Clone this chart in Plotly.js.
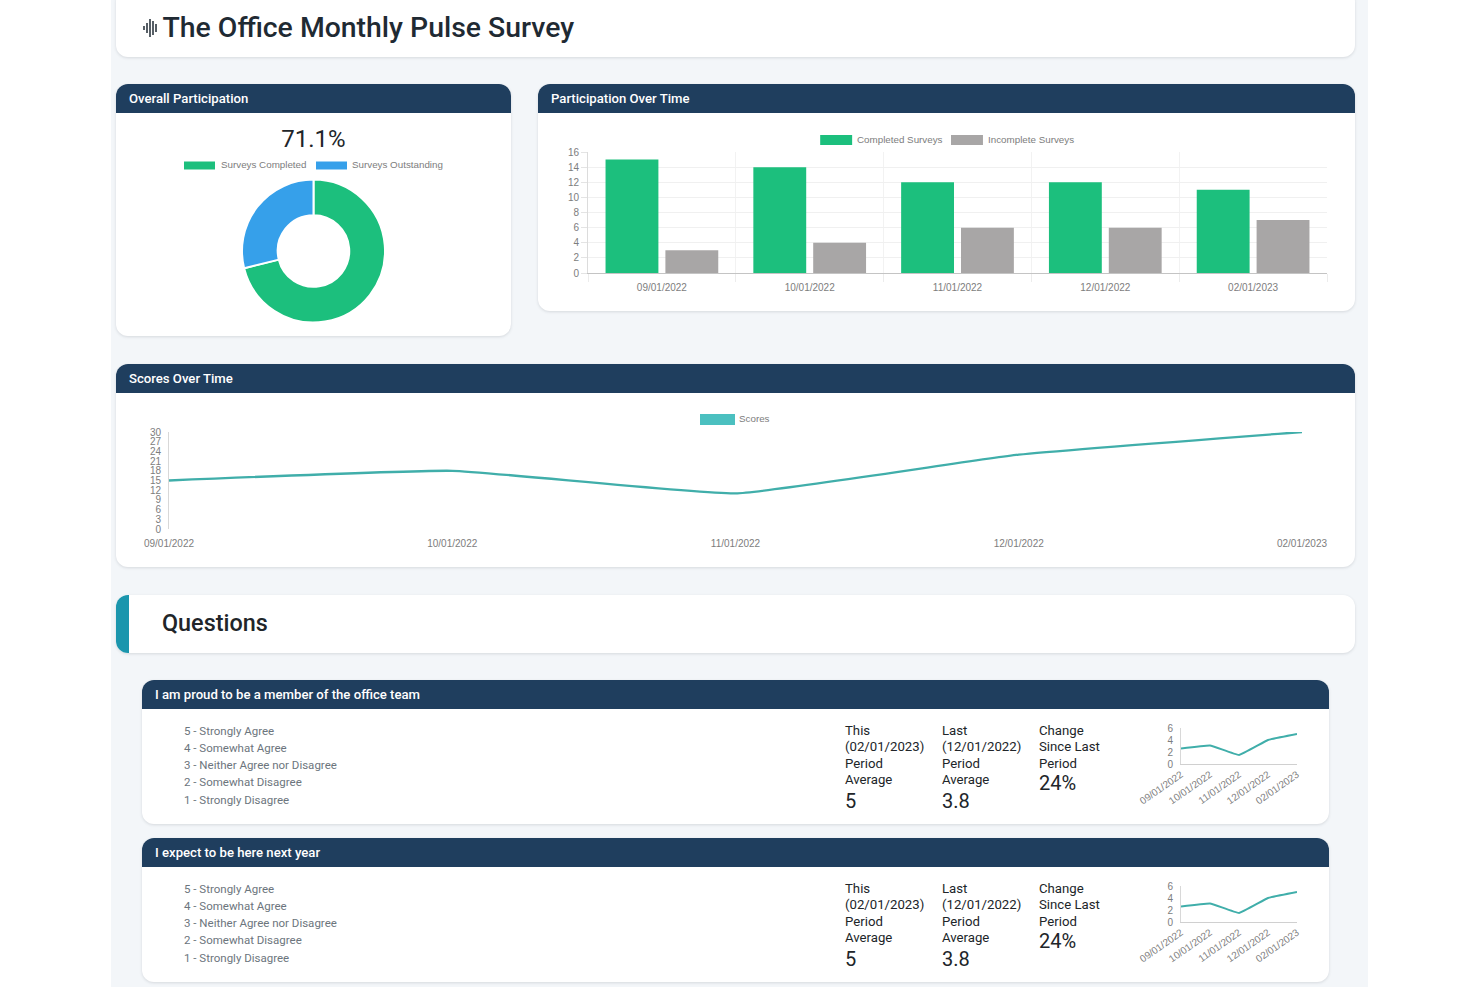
<!DOCTYPE html>
<html><head><meta charset="utf-8">
<script src="https://cdn.plot.ly/plotly-3.0.1.min.js"></script>
<style>
html,body{margin:0;padding:0;width:1480px;height:987px;overflow:hidden;background:#fff;font-family:Roboto,sans-serif;color:#212529}
#bg{position:absolute;left:111px;top:0;width:1257px;height:987px;background:#f3f6f9}
.card{position:absolute;background:#fff;border-radius:12px;box-shadow:0 1px 3px rgba(60,70,80,.16)}
.head{position:absolute;left:0;right:0;top:0;height:29px;background:#1f3e5e;border-radius:12px 12px 0 0;color:#fff;font-weight:500;font-size:13.15px;line-height:29px;padding-left:13px;box-sizing:border-box}
.plot{position:absolute}
.abs{position:absolute;white-space:nowrap}
.scale{font-size:11.5px;color:#6c757d;height:17px;line-height:17px}
.stat{font-size:13.2px;line-height:16.5px;color:#212529;white-space:pre-line}
.big{font-size:20px;line-height:22px;color:#212529}
</style></head><body>
<div id="bg"></div>
<div id="page"></div>
<script>
const dates = ["09/01/2022","10/01/2022","11/01/2022","12/01/2022","02/01/2023"];
const completed = [15,14,12,12,11];
const incomplete = [3,4,6,6,7];
const overallLabels = ["Surveys Completed","Surveys Outstanding"];
const overallValues = [64,26];
const overallText = "71.1%";
const scores = [15,18,11,23,30];
const questionTitles = ["I am proud to be a member of the office team","I expect to be here next year"];
const scaleLabels = ["5 - Strongly Agree","4 - Somewhat Agree","3 - Neither Agree nor Disagree","2 - Somewhat Disagree","1 - Strongly Disagree"];
const questionScores = [2.6,3.1,1.5,4,5];
const thisHead = "This\n(02/01/2023)\nPeriod\nAverage", thisValue = "5";
const lastHead = "Last\n(12/01/2022)\nPeriod\nAverage", lastValue = "3.8";
const changeHead = "Change\nSince Last\nPeriod", changeValue = "24%";

const GREEN="#1cbf7d", BLUE="#36a0ea", GREY="#a8a6a6", TEAL="#40aeaa", SWATCH="#4bc0c0";
const TICK="#7d7d7d", FONT="Liberation Sans, Arial, sans-serif";
const page=document.getElementById("page");
function el(cls,x,y,w,h,txt){const d=document.createElement("div");d.className=cls;d.style.left=x+"px";d.style.top=y+"px";
  if(w!=null)d.style.width=w+"px"; if(h!=null)d.style.height=h+"px"; if(txt!=null)d.textContent=txt; page.appendChild(d);return d;}
function card(x0,y0,x1,y1,title){const c=el("card",x0,y0,x1-x0,y1-y0);
  if(title){const h=document.createElement("div");h.className="head";h.textContent=title;c.appendChild(h);}return c;}
function plot(x0,y0,x1,y1){return el("plot",x0,y0,x1-x0,y1-y0);}
// legend swatches and labels as paper-referenced shapes and annotations
function addLegend(layout,x0,y0,x1,y1,items){
  const m=layout.margin, pw=x1-x0-m.l-m.r, ph=y1-y0-m.t-m.b;
  const fx=p=>(p-x0-m.l)/pw, fy=p=>1-(p-y0-m.t)/ph;
  layout.shapes=items.map(i=>({type:"rect",xref:"paper",yref:"paper",line:{width:0},fillcolor:i.c,
    x0:fx(i.sx0),x1:fx(i.sx1),y0:fy(i.sy1),y1:fy(i.sy0)}));
  layout.annotations=items.map(i=>({text:i.t,showarrow:false,xref:"paper",yref:"paper",xanchor:"left",yanchor:"middle",
    x:fx(i.tx),y:fy((i.sy0+i.sy1)/2),xshift:-2,yshift:0.7,font:{family:FONT,size:9.8,color:TICK}}));
  return layout;
}
const cfg={staticPlot:true,displayModeBar:false};

// ---- title card
card(116,-10,1355,57);
el("abs",162.5,7,null,null,"The Office Monthly Pulse Survey").style.cssText+=";font-size:28.4px;font-weight:500;color:#1f2a33;line-height:42px";
const ic=document.createElementNS("http://www.w3.org/2000/svg","svg");
ic.setAttribute("width","18");ic.setAttribute("height","20");ic.style.cssText="position:absolute;left:143px;top:18px";
ic.innerHTML='<g stroke="#1f2a33" stroke-width="1.5">'+[[1,8,12],[4,5,15],[7,1,19],[10,3,17],[13,6,14]].map(a=>`<line x1="${a[0]}" x2="${a[0]}" y1="${a[1]}" y2="${a[2]}"/>`).join("")+'</g>';
page.appendChild(ic);

// ---- overall participation
card(116,84,511,336,"Overall Participation");
el("abs",116,125,395,28,overallText).style.cssText+=";text-align:center;font-size:24px;line-height:28px;color:#212529";
{const x0=117,y0=113,x1=510,y1=335,d=plot(x0,y0,x1,y1);
 const cx=313.5,cy=251,R=71.5;
 const lay={width:x1-x0,height:y1-y0,margin:{l:0,r:0,t:0,b:0},showlegend:false,paper_bgcolor:"rgba(0,0,0,0)"};
 addLegend(lay,x0,y0,x1,y1,[
  {c:GREEN,sx0:184,sx1:215,sy0:161.5,sy1:169.5,t:overallLabels[0],tx:221},
  {c:BLUE,sx0:316,sx1:347,sy0:161.5,sy1:169.5,t:overallLabels[1],tx:352}]);
 Plotly.newPlot(d,[{type:"pie",labels:overallLabels,values:overallValues,hole:.5,sort:false,direction:"clockwise",rotation:0,
   textinfo:"none",marker:{colors:[GREEN,BLUE],line:{color:"#fff",width:2}},
   domain:{x:[(cx-R-x0)/(x1-x0),(cx+R-x0)/(x1-x0)],y:[1-(cy+R-y0)/(y1-y0),1-(cy-R-y0)/(y1-y0)]}}],lay,cfg);}

// ---- participation over time
card(538,84,1355,311,"Participation Over Time");
{const x0=538,y0=113,x1=1355,y1=311,d=plot(x0,y0,x1,y1);
 const lay={width:x1-x0,height:y1-y0,margin:{l:49.5,r:27.5,t:39,b:38},showlegend:false,paper_bgcolor:"rgba(0,0,0,0)",plot_bgcolor:"rgba(0,0,0,0)",
   barmode:"group",bargap:.19,bargroupgap:.117,
   font:{family:FONT,size:10,color:TICK},
   xaxis:{type:"category",tickson:"boundaries",showgrid:true,gridcolor:"#f2f2f2",ticks:"outside",ticklen:8,tickcolor:"#ececec",ticklabelstandoff:5,tickfont:{size:10,color:TICK},zeroline:false,showline:true,linecolor:"#c4c4c4",linewidth:1},
   yaxis:{range:[0,16],dtick:2,showgrid:true,gridcolor:"#f0f0f0",ticks:"outside",ticklen:6,tickcolor:"#e4e4e4",tickfont:{size:10,color:TICK},zeroline:false,showline:true,linecolor:"#dcdcdc"}};
 addLegend(lay,x0,y0,x1,y1,[{c:GREEN,sx0:820,sx1:852,sy0:135,sy1:145,t:"Completed Surveys",tx:857},{c:GREY,sx0:951,sx1:983,sy0:135,sy1:145,t:"Incomplete Surveys",tx:988}]);
 Plotly.newPlot(d,[{type:"bar",name:"Completed Surveys",x:dates,y:completed,marker:{color:GREEN}},
                   {type:"bar",name:"Incomplete Surveys",x:dates,y:incomplete,marker:{color:GREY}}],lay,cfg);}

// ---- scores over time
card(116,364,1355,567,"Scores Over Time");
{const x0=116,y0=393,x1=1355,y1=567,d=plot(x0,y0,x1,y1);
 const lay={width:x1-x0,height:y1-y0,margin:{l:53,r:53,t:39,b:38},showlegend:false,paper_bgcolor:"rgba(0,0,0,0)",plot_bgcolor:"rgba(0,0,0,0)",
   font:{family:FONT,size:10,color:TICK},
   xaxis:{type:"category",range:[0,4],showgrid:false,zeroline:false,ticks:"outside",ticklen:5,tickcolor:"rgba(0,0,0,0)",tickfont:{size:10,color:TICK},tickangle:0,showline:false},
   yaxis:{range:[0,30],dtick:3,showgrid:false,zeroline:false,ticks:"outside",ticklen:5,tickcolor:"rgba(0,0,0,0)",tickfont:{size:10,color:TICK},showline:true,linecolor:"#d8d8d8"}};
 addLegend(lay,x0,y0,x1,y1,[{c:SWATCH,sx0:700,sx1:735,sy0:414,sy1:425,t:"Scores",tx:739}]);
 Plotly.newPlot(d,[{type:"scatter",mode:"lines",name:"Scores",x:dates,y:scores,line:{color:TEAL,width:2.3,shape:"spline",smoothing:.35}}],lay,cfg);}

// ---- questions header
const qc=card(116,595,1355,653);
qc.style.overflow="hidden";
const bar=document.createElement("div");bar.style.cssText="position:absolute;left:0;top:0;bottom:0;width:13px;background:#1b96ad";qc.appendChild(bar);
el("abs",162,608,null,null,"Questions").style.cssText+=";font-size:23.4px;font-weight:500;line-height:30px;color:#212529";

// ---- question cards
questionTitles.forEach((q,i)=>{
 const o=i*158;
 card(142,680+o,1329,824+o,q);
 scaleLabels.forEach((s,k)=>el("abs scale",184,722.5+o+k*17.25,null,null,s));
 [[845,thisHead,thisValue,790],[942,lastHead,lastValue,790],[1039,changeHead,changeValue,772]].forEach(c=>{
   el("abs stat",c[0],722.5+o,null,null,c[1]);
   el("abs big",c[0],c[3]+o,null,null,c[2]);
 });
 const x0=1130,y0=712+o,x1=1329,y1=824+o,d=plot(x0,y0,x1,y1);
 Plotly.newPlot(d,[{type:"scatter",mode:"lines",x:dates,y:questionScores,line:{color:TEAL,width:2,shape:"spline",smoothing:.25}}],
  {width:x1-x0,height:y1-y0,margin:{l:51,r:32,t:16,b:60},showlegend:false,paper_bgcolor:"rgba(0,0,0,0)",plot_bgcolor:"rgba(0,0,0,0)",
   font:{family:FONT,size:10,color:TICK},
   xaxis:{type:"category",range:[0,4],tickangle:-35,showgrid:false,zeroline:false,showline:true,linecolor:"#d0d0d0",tickfont:{size:10,color:TICK},ticks:""},
   yaxis:{range:[0,6],dtick:2,showgrid:false,zeroline:false,showline:true,linecolor:"#d8d8d8",tickfont:{size:10,color:TICK},ticks:"outside",ticklen:5,tickcolor:"rgba(0,0,0,0)"}},cfg);
});
</script>
</body></html>
